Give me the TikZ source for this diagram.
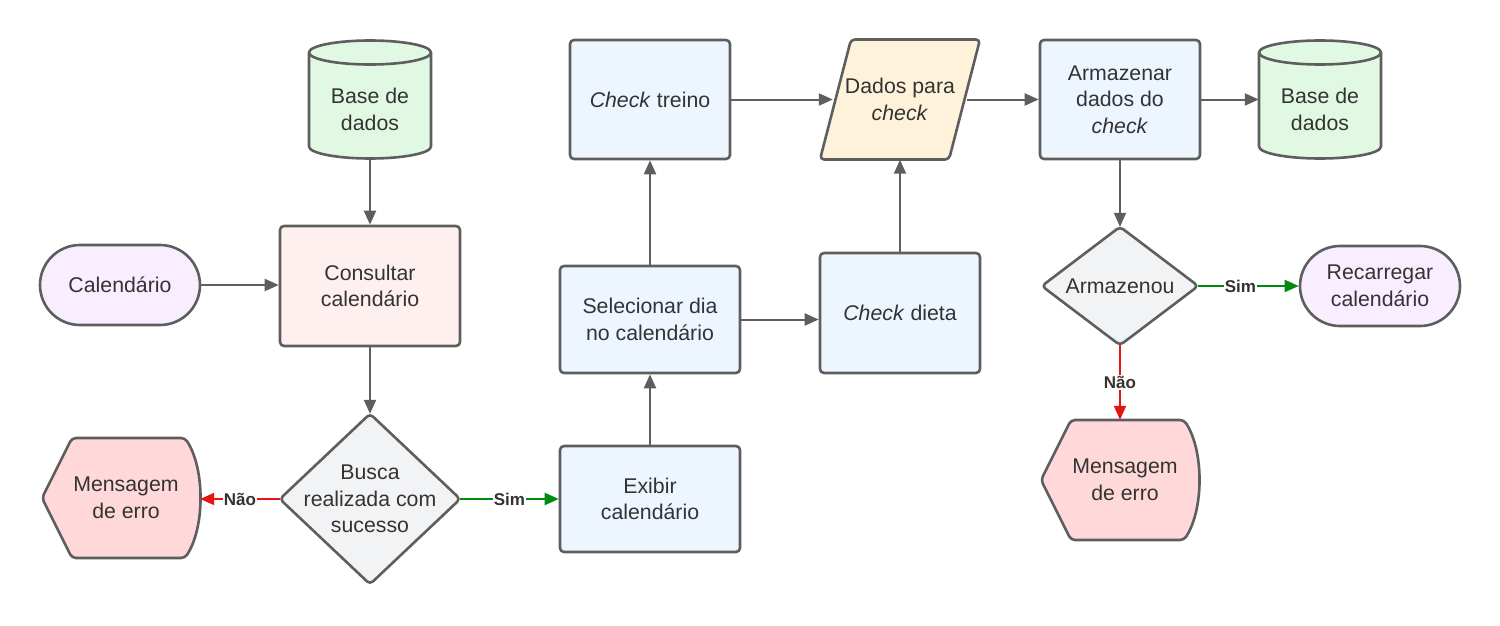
\documentclass[tikz,border=0pt]{standalone}
\usepackage{fontspec}
\setmainfont{Liberation Sans}
\usetikzlibrary{arrows.meta}
\definecolor{lc}{HTML}{5E5E5E}
\definecolor{tc}{HTML}{333333}
\definecolor{blueF}{HTML}{EDF5FF}
\definecolor{greenF}{HTML}{E1F9E2}
\definecolor{pinkF}{HTML}{FFF0F0}
\definecolor{lavF}{HTML}{F9EEFF}
\definecolor{grayF}{HTML}{F2F3F5}
\definecolor{redF}{HTML}{FFD8D9}
\definecolor{yelF}{HTML}{FFF2DB}
\definecolor{redL}{HTML}{E81313}
\definecolor{greenL}{HTML}{008A0E}
\newcommand\mainfs{\fontsize{21.3}{26.5}\selectfont}
\newcommand\lblfs{\fontsize{17}{19}\selectfont\bfseries}
\pgfdeclarelayer{back}
\pgfdeclarelayer{bg}
\pgfsetlayers{back,bg,main}
\begin{document}
\begin{tikzpicture}[x=1pt,y=-1pt,
  shp/.style={draw=lc, line width=2.6pt, line join=round},
  txt/.style={text=tc, font=\mainfs, align=center, inner sep=0pt},
  box/.style={txt, shp, rectangle, rounded corners=4pt, fill=blueF},
  pill/.style={txt, shp, rectangle, rounded corners=40pt, fill=lavF, minimum width=160pt, minimum height=80pt},
  ghost/.style={txt, rectangle},
  arr/.style={draw=lc, line width=2pt, -{Triangle[length=14pt,width=12pt]}},
  arrR/.style={arr, draw=redL, -{Triangle[length=14pt,width=12pt,fill=redL]}},
  arrG/.style={arr, draw=greenL, -{Triangle[length=14pt,width=12pt,fill=greenL]}},
  lbl/.style={fill=white, font=\lblfs, text=tc, inner sep=1pt},
  dbpic/.pic={
    \path[shp, fill=greenF] (-61,-47) -- (-61,47) .. controls (-61,53.6) and (-33.7,59) .. (0,59)
      .. controls (33.7,59) and (61,53.6) .. (61,47) -- (61,-47)
      .. controls (61,-53.6) and (33.7,-59) .. (0,-59)
      .. controls (-33.7,-59) and (-61,-53.6) .. (-61,-47) -- cycle;
    \path[shp] (-61,-47) .. controls (-61,-40.4) and (-33.7,-35) .. (0,-35)
      .. controls (33.7,-35) and (61,-40.4) .. (61,-47);
  },
  errpic/.pic={
    \path[shp, fill=redF, rounded corners=4pt] (-79,0) -- (-49,-60) -- (64,-60)
      .. controls (84,-29) and (84,29) .. (64,60) -- (-49,60) -- cycle;
  }
]
\begin{pgfonlayer}{back}
\useasboundingbox[fill=white] (0,0) rectangle (1500,626);
\end{pgfonlayer}

% nodes
\node[pill] (cal) at (120,285) {Calendário};
\node[ghost, minimum width=122pt, minimum height=98pt] (db1) at (370,109.5) {Base de\\dados};
\node[box, fill=pinkF, minimum width=180pt, minimum height=120pt] (cons) at (370,286) {Consultar\\calendário};
\node[ghost, minimum width=180pt, minimum height=170pt] (dia1) at (370,499) {Busca\\realizada com\\sucesso};
\node[ghost, minimum width=158pt, minimum height=120pt] (err1) at (121,498) {\hspace*{10pt}Mensagem\\\hspace*{10pt}de erro};
\node[box, minimum width=180pt, minimum height=106pt] (exib) at (650,499) {Exibir\\calendário};
\node[box, minimum width=180pt, minimum height=107pt] (sel) at (650,319.5) {Selecionar dia\\no calendário};
\node[box, minimum width=160pt, minimum height=119pt] (treino) at (650,99.5) {\textit{Check} treino};
\node[box, minimum width=160pt, minimum height=120pt] (dieta) at (900,313) {\textit{Check} dieta};
\node[ghost, minimum width=134pt, minimum height=120pt] (dados) at (900,99.5) {Dados para\\\textit{check}};
\node[box, minimum width=160pt, minimum height=119pt] (arm) at (1120,99.5) {Armazenar\\dados do\\\textit{check}};
\node[ghost, minimum width=122pt, minimum height=98pt] (db2) at (1320,109.5) {Base de\\dados};
\node[ghost, minimum width=156pt, minimum height=118pt] (dia2) at (1120,286) {Armazenou};
\node[pill] (rec) at (1380,286) {Recarregar\\calendário};
\node[ghost, minimum width=158pt, minimum height=120pt] (err2) at (1120,480) {\hspace*{10pt}Mensagem\\\hspace*{10pt}de erro};

% background shapes
\begin{pgfonlayer}{bg}
\pic at ([yshift=10pt]db1.center) {dbpic};
\pic at ([yshift=10pt]db2.center) {dbpic};
\pic at (err1.center) {errpic};
\pic at (err2.center) {errpic};
\path[shp] (cons.north west) ++(17,0) -- ++(0,120);
\path[shp] (cons.north east) ++(-17,0) -- ++(0,120);
\path[shp, fill=grayF, rounded corners=4pt] (dia1.north) -- (dia1.east) -- (dia1.south) -- (dia1.west) -- cycle;
\path[shp, fill=grayF, rounded corners=4pt] (dia2.north) -- (dia2.east) -- (dia2.south) -- (dia2.west) -- cycle;
\path[shp, fill=yelF, rounded corners=4pt] ([shift={(-49,-60)}]dados.center) -- ([shift={(80,-60)}]dados.center)
  -- ([shift={(49,60)}]dados.center) -- ([shift={(-80,60)}]dados.center) -- cycle;
\end{pgfonlayer}

% connectors
\draw[arr] (cal) -- (cal -| cons.west);
\draw[arr] (db1) -- (cons);
\draw[arr] (cons) -- (dia1);
\draw[arrR] (dia1) -- node[lbl]{Não} (dia1 -| err1.east);
\draw[arrG] (dia1) -- node[lbl]{Sim} (exib);
\draw[arr] (exib) -- (sel);
\draw[arr] (sel) -- (treino);
\draw[arr] (sel.east) -- (sel.east -| dieta.west);
\draw[arr] (treino) -- (dados);
\draw[arr] (dieta) -- (dados);
\draw[arr] (dados) -- (arm);
\draw[arr] (arm) -- (arm -| db2.west);
\draw[arr] (arm) -- (dia2);
\draw[arrG] (dia2) -- node[lbl, pos=0.42]{Sim} (rec);
\draw[arrR] (dia2) -- node[lbl]{Não} (err2);
\end{tikzpicture}
\end{document}
